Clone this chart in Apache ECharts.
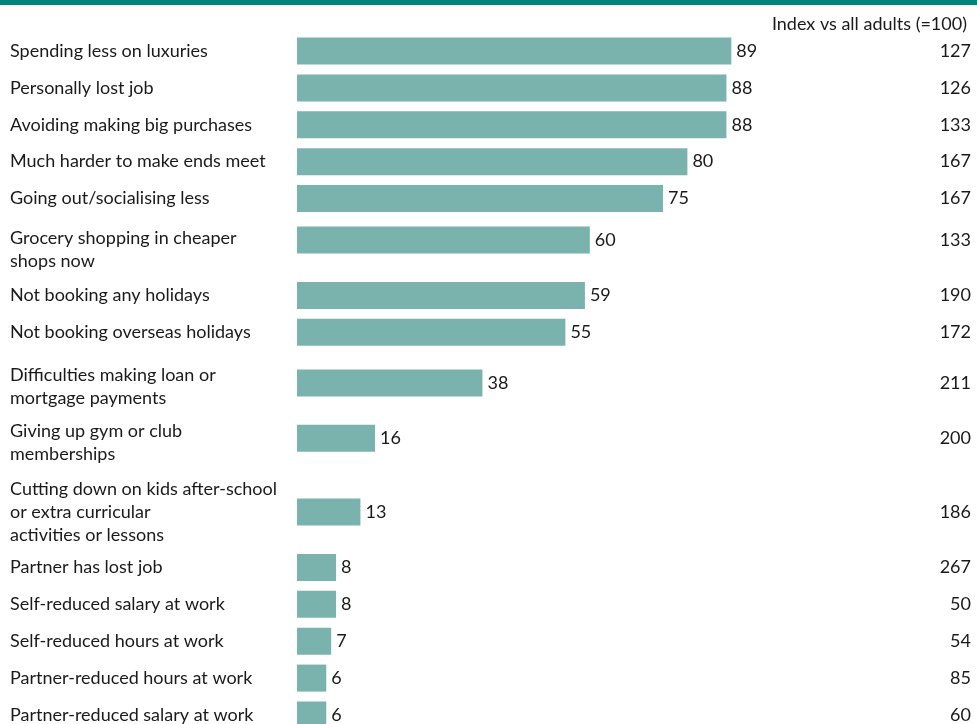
<!DOCTYPE html>
<html>
<head>
<meta charset="utf-8">
<script src="https://cdn.jsdelivr.net/npm/echarts@6/dist/echarts.min.js"></script>
<style>
  html, body { margin: 0; padding: 0; background: #ffffff; }
  #chart { width: 977px; height: 724px; }
</style>
</head>
<body>
<div id="chart"></div>
<script>
// Share of respondents taking each action (%)
const categories = [
  'Spending less on luxuries',
  'Personally lost job',
  'Avoiding making big purchases',
  'Much harder to make ends meet',
  'Going out/socialising less',
  'Grocery shopping in cheaper\nshops now',
  'Not booking any holidays',
  'Not booking overseas holidays',
  'Difficulties making loan or\nmortgage payments',
  'Giving up gym or club\nmemberships',
  'Cutting down on kids after-school\nor extra curricular\nactivities or lessons',
  'Partner has lost job',
  'Self-reduced salary at work',
  'Self-reduced hours at work',
  'Partner-reduced hours at work',
  'Partner-reduced salary at work'
];
const shares = [89, 88, 88, 80, 75, 60, 59, 55, 38, 16, 13, 8, 8, 7, 6, 6];
// Index vs all adults (=100)
const indexVsAll = [127, 126, 133, 167, 167, 133, 190, 172, 211, 200, 186, 267, 50, 54, 85, 60];

// Layout: rows sit on a fine-grained category band; multi-line rows take more room
const rowGapSlots = [0, 8, 8, 8, 8, 9, 12, 8, 11, 12, 16, 12, 8, 8, 8, 8];
// Downward nudge (px) of a row's left label relative to its bar
const labelNudge = [0, 0, 0, 0, 0, 10, 0, 0, 4, 4, 0, 0, 0, 0, 0, 0];
const PAD_SLOTS = 3;
const SLOT_PX = 4.611;

const FONT = 'Lato';
const TEXT = '#1a1a1a';
const LABEL_SIZE = 18;
const LINE_H = 23;

const rowSlot = [];
let cursor = PAD_SLOTS;
rowGapSlots.forEach(g => { cursor += g; rowSlot.push(cursor); });
const slotCount = cursor + PAD_SLOTS + 1;

const leftLabels = new Array(slotCount).fill('');
const rightLabels = new Array(slotCount).fill('');
const barData = new Array(slotCount).fill(null);
const slotNudge = new Array(slotCount).fill(0);
rowSlot.forEach((s, i) => {
  leftLabels[s] = categories[i];
  rightLabels[s] = String(indexVsAll[i]);
  barData[s] = shares[i];
  slotNudge[s] = labelNudge[i];
});

// A spacer line on top pushes the centred text block down by half its height
const spacerRich = {};
labelNudge.filter(n => n > 0).forEach(n => {
  spacerRich['sp' + n] = { fontSize: 1, lineHeight: n * 2 };
});

const gridTop = 51 - (PAD_SLOTS + 0.5) * SLOT_PX;
const gridLeft = 297;
const gridWidth = 488;

const chart = echarts.init(document.getElementById('chart'), null, { renderer: 'canvas' });
chart.setOption({
  animation: false,
  backgroundColor: '#ffffff',
  textStyle: { fontFamily: FONT },
  title: {
    text: 'Index vs all adults (=100)',
    right: 5,
    top: 10,
    textStyle: { fontFamily: FONT, fontSize: 18, fontWeight: 'normal', color: TEXT }
  },
  graphic: [{
    type: 'rect',
    left: 0, top: 0,
    shape: { width: 977, height: 5 },
    style: { fill: '#00857a' }
  }],
  grid: {
    left: gridLeft, top: gridTop, width: gridWidth, height: slotCount * SLOT_PX,
    containLabel: false,
    outerBoundsMode: 'none'
  },
  xAxis: { type: 'value', min: 0, max: 100, show: false },
  yAxis: [{
    type: 'category',
    inverse: true,
    data: leftLabels,
    axisLine: { show: false },
    axisTick: { show: false },
    splitLine: { show: false },
    axisLabel: {
      interval: 0,
      align: 'left',
      margin: gridLeft - 10,
      fontFamily: FONT,
      fontSize: LABEL_SIZE,
      lineHeight: LINE_H,
      color: TEXT,
      formatter: (value, index) => {
        const n = slotNudge[index];
        return n ? '{sp' + n + '| }\n' + value : value;
      },
      rich: spacerRich
    }
  }, {
    type: 'category',
    inverse: true,
    position: 'right',
    data: rightLabels,
    axisLine: { show: false },
    axisTick: { show: false },
    splitLine: { show: false },
    axisLabel: {
      interval: 0,
      align: 'right',
      margin: 977 - 6 - (gridLeft + gridWidth),
      fontFamily: FONT,
      fontSize: LABEL_SIZE,
      color: TEXT
    }
  }],
  series: [{
    type: 'bar',
    yAxisIndex: 0,
    data: barData,
    barWidth: 27,
    clip: false,
    itemStyle: { color: '#7ab3ae' },
    label: {
      show: true,
      position: 'right',
      distance: 5,
      fontFamily: FONT,
      fontSize: LABEL_SIZE,
      color: TEXT
    }
  }]
});
</script>
</body>
</html>
